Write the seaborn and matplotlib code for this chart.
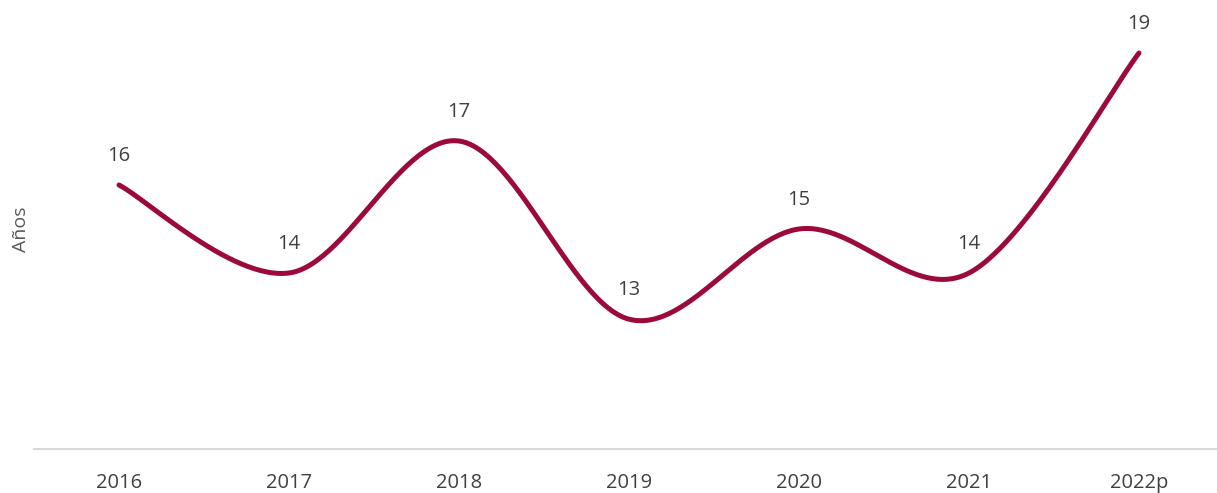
import numpy as np
import pandas as pd
import matplotlib
matplotlib.use("Agg")
import matplotlib.pyplot as plt
import seaborn as sns

years = ["2016", "2017", "2018", "2019", "2020", "2021", "2022p"]
values = [16.0, 14.0, 17.0, 12.95, 15.0, 14.0, 19.0]
labels = ["16", "14", "17", "13", "15", "14", "19"]

LINE = "#9B0A3A"
TXT = "#404040"

sns.set_theme(style="white")
plt.rcParams["font.family"] = ["Open Sans", "DejaVu Sans"]

fig = plt.figure(figsize=(12.17, 4.93), dpi=100)
ax = fig.add_axes([34 / 1217, 44 / 493, 1190 / 1217, (449 - 9) / 493])

# Excel-style smoothed line (Catmull-Rom Bezier) through the data points
x = np.arange(len(values), dtype=float)
y = np.array(values, dtype=float)
xs, ys = [], []
n = len(x)
for i in range(n - 1):
    p0 = np.array([x[max(i - 1, 0)], y[max(i - 1, 0)]])
    p1 = np.array([x[i], y[i]])
    p2 = np.array([x[i + 1], y[i + 1]])
    p3 = np.array([x[min(i + 2, n - 1)], y[min(i + 2, n - 1)]])
    c1 = p1 + (p2 - p0) / 6.0
    c2 = p2 - (p3 - p1) / 6.0
    t = np.linspace(0, 1, 60)[:, None]
    pts = (1 - t) ** 3 * p1 + 3 * (1 - t) ** 2 * t * c1 + 3 * (1 - t) * t ** 2 * c2 + t ** 3 * p2
    xs.extend(pts[:, 0]); ys.extend(pts[:, 1])
curve = pd.DataFrame({"x": xs, "y": ys})
sns.lineplot(data=curve, x="x", y="y", ax=ax, color=LINE, linewidth=3.6,
             sort=False, estimator=None, solid_capstyle="round")

for xi, yi, lab in zip(x, y, labels):
    ax.annotate(lab, (xi, yi), xytext=(0, 14), textcoords="offset points",
                ha="center", va="bottom", fontsize=14.5, color=TXT)

ax.set_xlim(-0.5, len(years) - 0.5)
ax.set_ylim(10, 20)
ax.set_xticks(x)
ax.set_xticklabels(years)
ax.set_yticks([])
ax.tick_params(axis="x", length=0, pad=17, labelsize=14.5, labelcolor=TXT)
ax.set_xlabel("")
ax.set_ylabel("Años", fontsize=14, color="#595959", labelpad=3)
for s in ["top", "right", "left"]:
    ax.spines[s].set_visible(False)
ax.spines["bottom"].set_color("#D9D9D9")
ax.spines["bottom"].set_linewidth(1.5)
ax.patch.set_alpha(0)

fig.savefig("out.png", dpi=100)
